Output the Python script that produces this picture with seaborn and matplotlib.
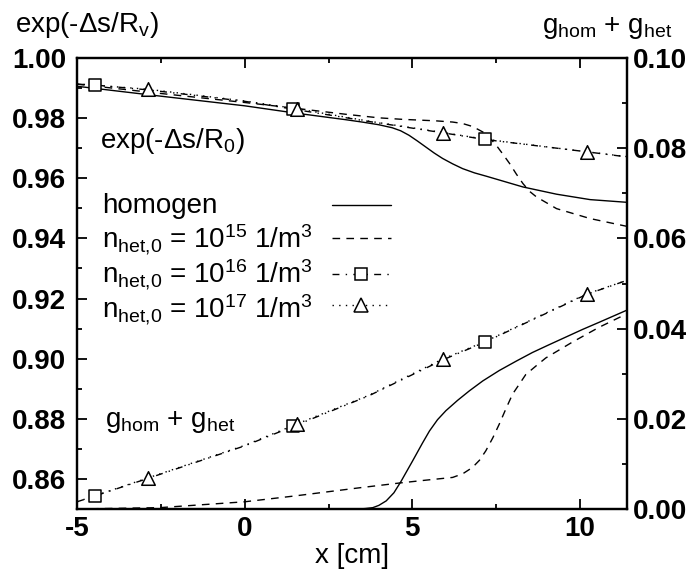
import numpy as np
import pandas as pd
import matplotlib
matplotlib.use("Agg")
import matplotlib.pyplot as plt
import seaborn as sns
from matplotlib.lines import Line2D
from matplotlib.ticker import MultipleLocator, FormatStrFormatter

# ---------------- data ----------------
# upper curves: exp(-ds/R) on left axis
x_hom_e = [-5, -2.5, 0, 1.5, 3.0, 3.5, 4.0, 4.4, 4.65, 4.9, 5.15, 5.4, 5.65, 5.9, 6.2, 6.5,
           6.85, 7.2, 8.3, 9.3, 10.3, 11.4]
hom_e = [0.9906, 0.9873, 0.9841, 0.9817, 0.9795, 0.9787, 0.9778, 0.9768, 0.9758, 0.9743,
         0.9724, 0.9704, 0.9684, 0.9666, 0.9648, 0.9632, 0.9618, 0.9607, 0.9571, 0.9547,
         0.9529, 0.9520]

x_e15 = [-5, -2.5, 0, 1.5, 3.0, 4.0, 4.7, 5.7, 6.2, 6.5, 6.8, 7.1, 7.3, 7.5, 7.7, 7.9, 8.1,
         8.3, 8.5, 8.7, 9.3, 10.3, 11.4]
e15 = [0.9913, 0.9882, 0.9852, 0.9833, 0.9813, 0.9801, 0.9796, 0.9791, 0.9787, 0.9782, 0.9772,
       0.9754, 0.9735, 0.9710, 0.9680, 0.9649, 0.9614, 0.9582, 0.9556, 0.9538, 0.9499, 0.9466,
       0.9440]

x_e16 = [-5, -4.46, -2.88, 0, 1.44, 3.7, 5.92, 7.16, 10.2, 11.4]
e16 = [0.9913, 0.9910, 0.9894, 0.9856, 0.9830, 0.9789, 0.9751, 0.9729, 0.9688, 0.9671]

x_e17 = [-5, -2.88, 0, 1.57, 3.7, 5.92, 7.16, 10.2, 11.4]
e17 = [0.9914, 0.9896, 0.9857, 0.9831, 0.9790, 0.9752, 0.9730, 0.9688, 0.9672]

# lower curves: g_hom + g_het on right axis
x_hom_g = [-5, 3.0, 3.42, 3.6, 3.82, 4.0, 4.22, 4.45, 4.66, 5.01, 5.3, 5.51, 5.75, 6.0, 6.35,
           6.7, 7.1, 7.59, 8.1, 8.58, 9.07, 9.57, 10.07, 10.57, 11.4]
hom_g = [0.0, 0.0, 0.0000, 0.0001, 0.0003, 0.0008, 0.0018, 0.0036, 0.0061, 0.0107, 0.0146,
         0.0173, 0.0198, 0.0218, 0.0241, 0.0262, 0.0284, 0.0307, 0.0328, 0.0347, 0.0364,
         0.0381, 0.0398, 0.0414, 0.0441]

x_g15 = [-5, -2.53, 0, 1.5, 3.42, 4.66, 5.41, 6.2, 6.5, 6.79, 7.0, 7.19, 7.4, 7.59, 7.8, 7.99,
         8.2, 8.38, 8.7, 8.98, 9.77, 10.57, 11.4]
g15 = [0.0000, 0.0003, 0.0016, 0.0029, 0.0047, 0.0058, 0.0064, 0.0070, 0.0078, 0.0092, 0.0108,
       0.0129, 0.0158, 0.0188, 0.0224, 0.0255, 0.0278, 0.0298, 0.0318, 0.0335, 0.0370, 0.0403,
       0.0433]

x_g16 = x_e16
g16 = [0.0016, 0.0029, 0.0068, 0.0140, 0.0183, 0.0251, 0.0331, 0.0370, 0.0476, 0.0507]
x_g17 = x_e17
g17 = [0.0016, 0.0069, 0.0141, 0.0189, 0.0252, 0.0333, 0.0371, 0.0477, 0.0507]

# marker positions
sq_x = [-4.46, 1.44, 7.16]
sq_e = [0.9910, 0.9830, 0.9729]
sq_g = [0.0029, 0.0183, 0.0370]
tri_x = [-2.88, 1.57, 5.92, 10.2]
tri_e = [0.9896, 0.9831, 0.9752, 0.9688]
tri_g = [0.0069, 0.0189, 0.0333, 0.0477]

legend_labels = [
    "homogen",
    r"n$_\mathregular{het{,}0}$ = 10$^\mathregular{15}$ 1/m$^\mathregular{3}$",
    r"n$_\mathregular{het{,}0}$ = 10$^\mathregular{16}$ 1/m$^\mathregular{3}$",
    r"n$_\mathregular{het{,}0}$ = 10$^\mathregular{17}$ 1/m$^\mathregular{3}$",
]

# ---------------- style ----------------
sns.set_theme(style="ticks")
plt.rcParams['font.family'] = ['Liberation Sans', 'DejaVu Sans']
plt.rcParams['mathtext.fontset'] = 'custom'
plt.rcParams['mathtext.rm'] = 'Liberation Sans'
plt.rcParams['mathtext.it'] = 'Liberation Sans'
plt.rcParams['lines.scale_dashes'] = False
plt.rcParams['axes.unicode_minus'] = False

K = 'black'
LW = 1.0
ST_SOLID = '-'
ST_DASH = (0, (5.5, 4.5))
ST_DASHDOT = (0, (5, 4.5, 1, 4.5))
ST_DOT = (0, (1, 3.8))
TXT = 20
TICK = 20

fig = plt.figure(figsize=(6.98, 5.74), dpi=100)
ax = fig.add_axes([77 / 698, 1 - 509 / 574, 550 / 698, 451 / 574])
ax2 = ax.twinx()

def line(a, x, y, ls):
    sns.lineplot(x=x, y=y, ax=a, color=K, linewidth=LW, linestyle=ls,
                 estimator=None, sort=False, legend=False)

def marks(a, x, y, m, s):
    sns.scatterplot(x=x, y=y, ax=a, marker=m, s=s, facecolor='white',
                    edgecolor=K, linewidth=1.1, zorder=5, legend=False)

line(ax, x_hom_e, hom_e, ST_SOLID)
line(ax, x_e15, e15, ST_DASH)
line(ax, x_e16, e16, ST_DASHDOT)
line(ax, x_e17, e17, ST_DOT)
marks(ax, sq_x, sq_e, 's', 70)
marks(ax, tri_x, tri_e, '^', 95)

line(ax2, x_hom_g, hom_g, ST_SOLID)
line(ax2, x_g15, g15, ST_DASH)
line(ax2, x_g16, g16, ST_DASHDOT)
line(ax2, x_g17, g17, ST_DOT)
marks(ax2, sq_x, sq_g, 's', 70)
marks(ax2, tri_x, tri_g, '^', 95)

ax.set_xlim(-5, 11.4)
ax.set_ylim(0.85, 1.00)
ax2.set_ylim(0.0, 0.10)

ax.xaxis.set_major_locator(MultipleLocator(5))
ax.xaxis.set_minor_locator(MultipleLocator(2.5))
ax.yaxis.set_major_locator(MultipleLocator(0.02))
ax.yaxis.set_minor_locator(MultipleLocator(0.01))
ax.yaxis.set_major_formatter(FormatStrFormatter('%.2f'))
ax2.yaxis.set_major_locator(MultipleLocator(0.02))
ax2.yaxis.set_minor_locator(MultipleLocator(0.01))
ax2.yaxis.set_major_formatter(FormatStrFormatter('%.2f'))

ax.tick_params(axis='x', which='both', direction='in', top=True, bottom=True,
               labelsize=TICK, pad=5, color=K)
ax.tick_params(axis='y', which='both', direction='in', left=True, right=False,
               labelsize=TICK, pad=8, color=K)
ax2.tick_params(axis='y', which='both', direction='in', left=False, right=True,
                labelsize=TICK, pad=4, color=K)
for a in (ax, ax2):
    a.tick_params(which='major', length=7, width=1.3)
    a.tick_params(which='minor', length=3.5, width=1.3)
    for lab in a.get_xticklabels() + a.get_yticklabels():
        lab.set_fontweight('bold')
    for sp in a.spines.values():
        sp.set_linewidth(1.6)
        sp.set_color(K)
ax.tick_params(axis='both', labelcolor=K)
ax2.tick_params(axis='both', labelcolor=K)

ax.set_xlabel("x [cm]", fontsize=TXT, labelpad=1, color=K)
ax.set_ylabel("")
ax2.set_ylabel("")

fig.text(15 / 698, 1 - 32 / 574, r"exp(-Δs/R$_\mathregular{v}$)", fontsize=TXT,
         ha='left', va='baseline', color=K)
fig.text(542 / 698, 1 - 33 / 574, r"g$_\mathregular{hom}$ + g$_\mathregular{het}$",
         fontsize=TXT, ha='left', va='baseline', color=K)

ax.text(0.042, 0.800, r"exp(-Δs/R$_\mathregular{0}$)", transform=ax.transAxes,
        fontsize=TXT, ha='left', va='baseline', color=K)
ax.text(0.051, 0.182, r"g$_\mathregular{hom}$ + g$_\mathregular{het}$", transform=ax.transAxes,
        fontsize=TXT, ha='left', va='baseline', color=K)

# legend drawn as rows: text on left, line sample on right
styles = [(ST_SOLID, None), (ST_DASH, None), (ST_DASHDOT, 's'), (ST_DOT, '^')]
text_y = [0.656, 0.579, 0.500, 0.423]
hand_y = [0.673, 0.600, 0.521, 0.452]
for lab, (ls, mk), ty, hy in zip(legend_labels, styles, text_y, hand_y):
    ax.text(0.046, ty, lab, transform=ax.transAxes, fontsize=TXT,
            ha='left', va='baseline', color=K)
    ax.add_line(Line2D([0.463, 0.570], [hy, hy], transform=ax.transAxes,
                       color=K, lw=LW, linestyle=ls))
    if mk is not None:
        ax.add_line(Line2D([0.5165], [hy], transform=ax.transAxes, marker=mk,
                           markersize=8.5 if mk == 's' else 9.5, markerfacecolor='white',
                           markeredgecolor=K, markeredgewidth=1.1, linestyle='none',
                           zorder=6))

fig.savefig("out.png", dpi=100)
